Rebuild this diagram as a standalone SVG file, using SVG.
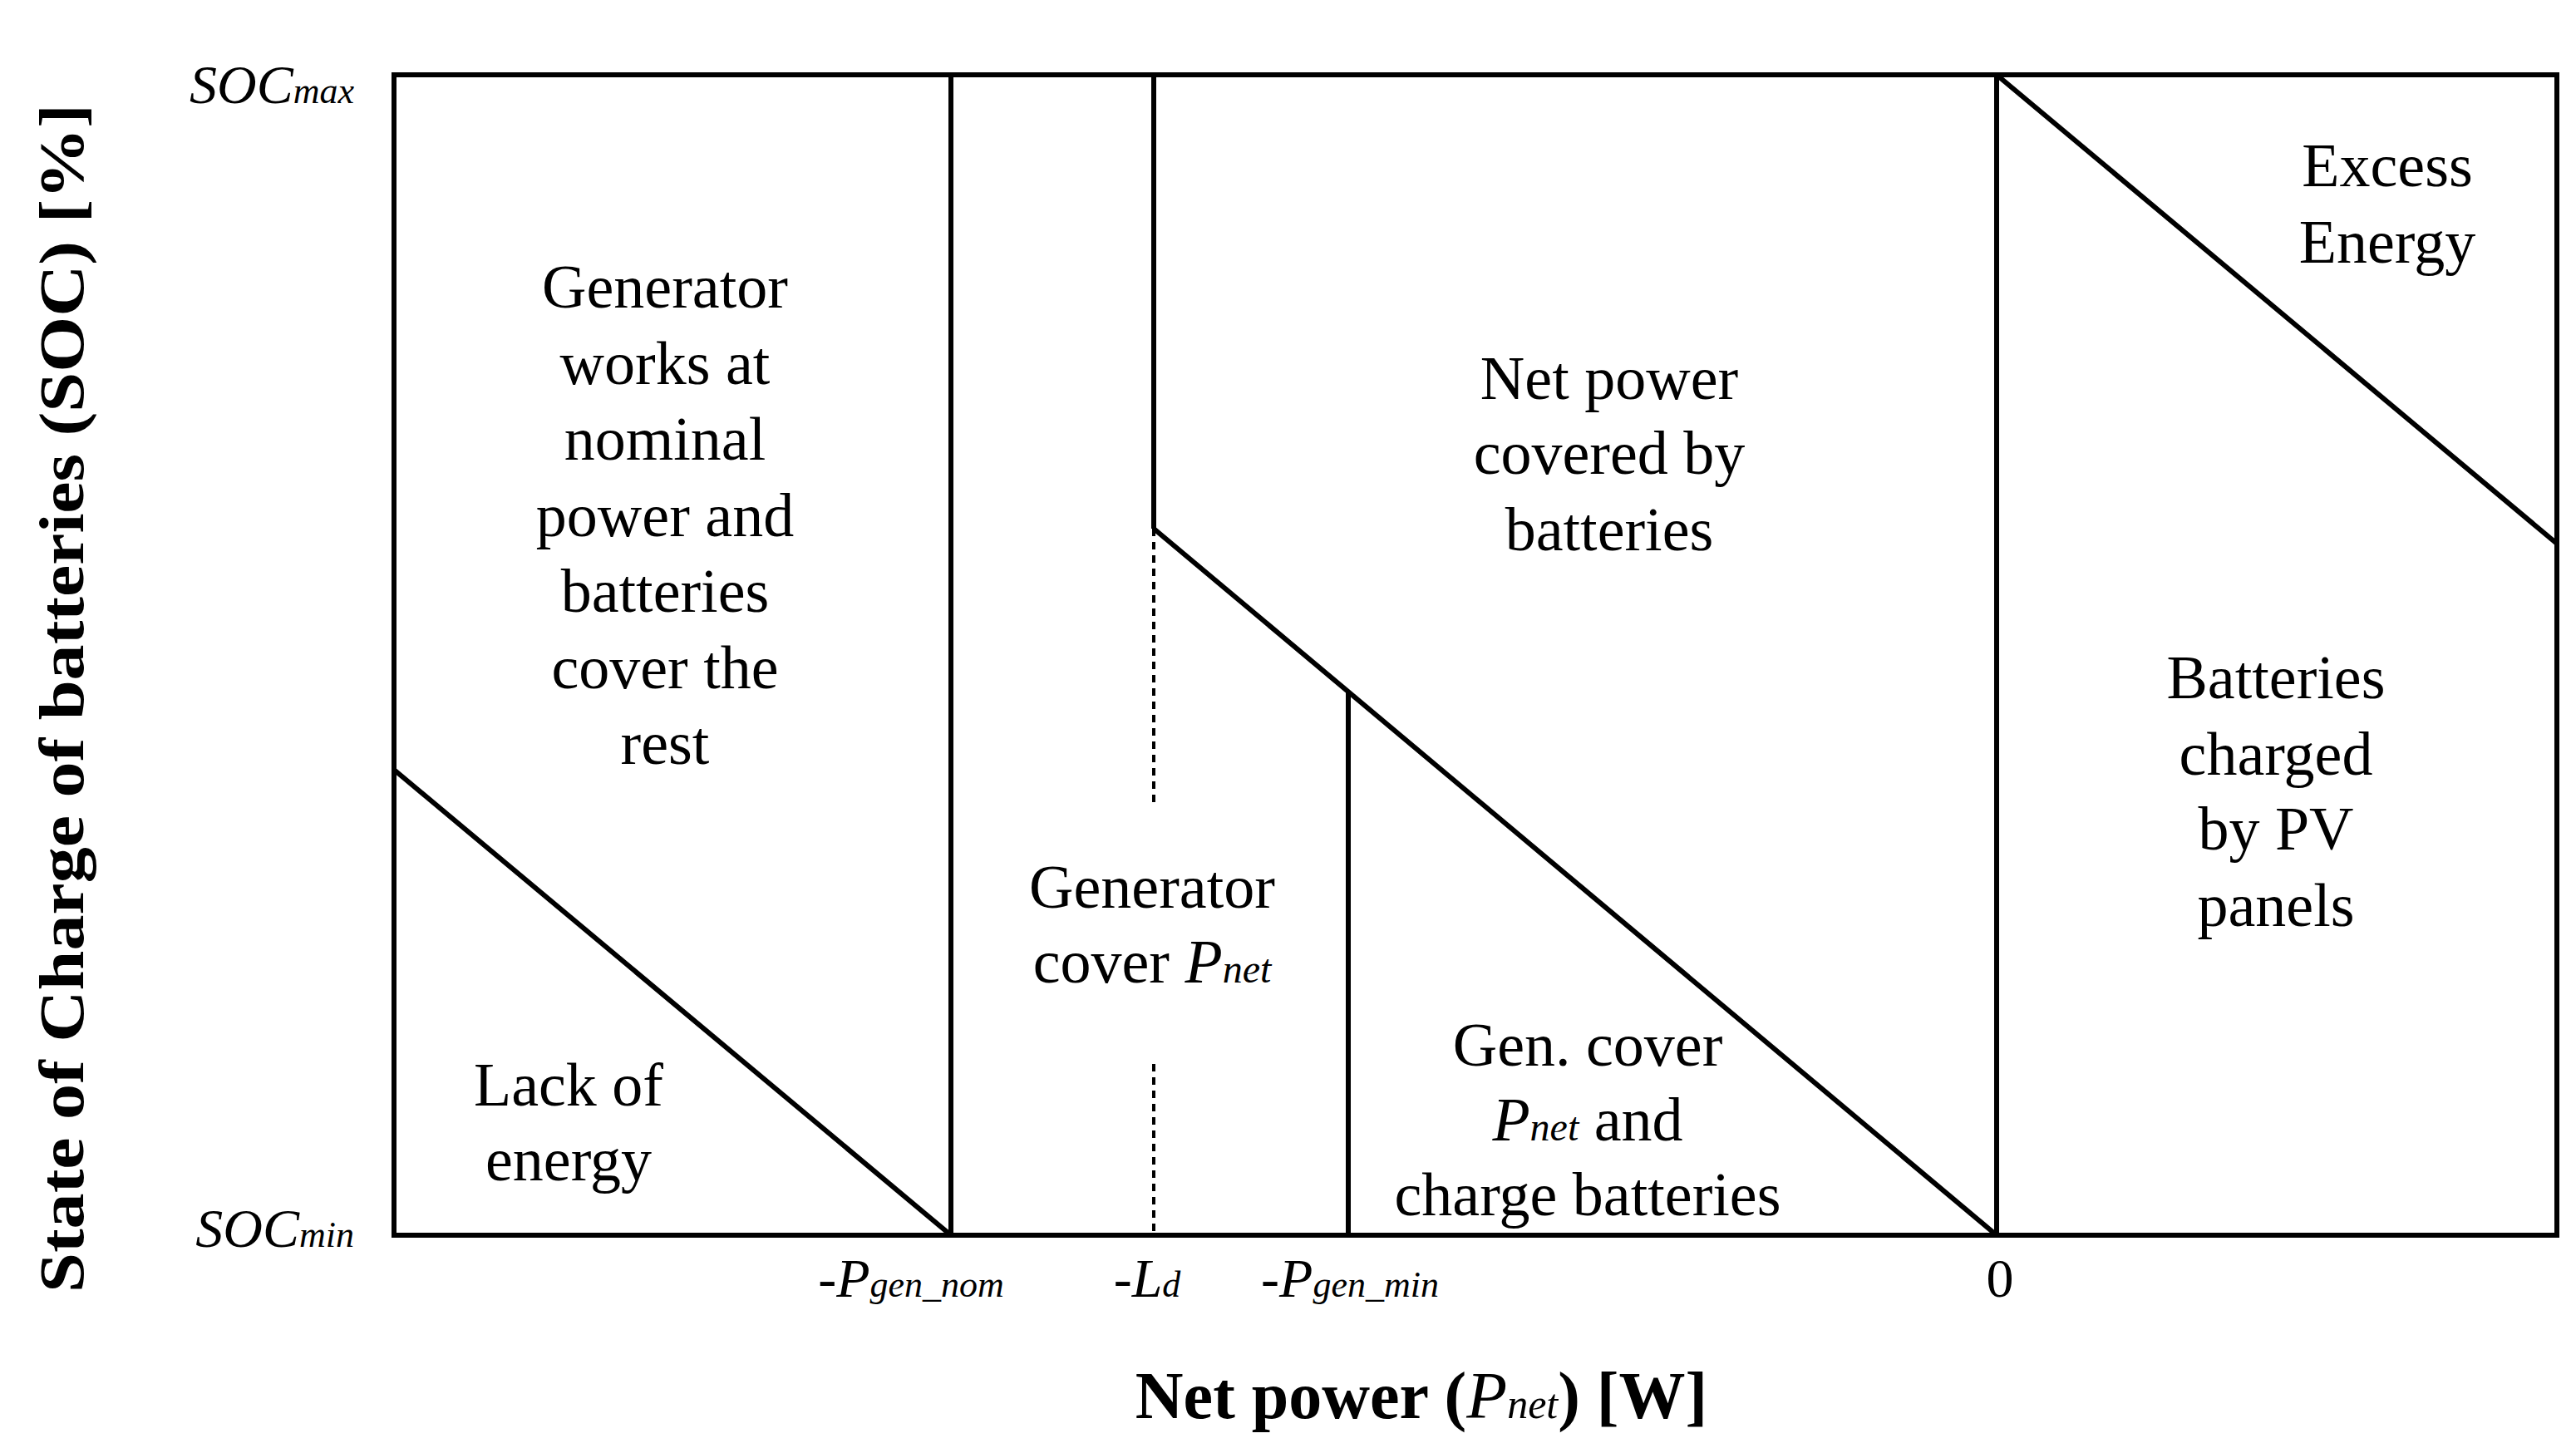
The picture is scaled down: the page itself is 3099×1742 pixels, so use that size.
<svg xmlns="http://www.w3.org/2000/svg" width="3099" height="1742" viewBox="0 0 3099 1742">
<style>
.l{stroke:#000;stroke-width:6;fill:none}
.d{stroke:#000;stroke-width:4;stroke-dasharray:9 7;fill:none}
text{font-family:"Liberation Serif",serif;fill:#000}
.t{font-size:74px;text-anchor:middle}
.a{font-size:66px;font-style:italic}
.s{font-size:44px;font-style:italic}
</style>
<rect width="3099" height="1742" fill="#fff"/>
<g id="connectors">
<rect class="l" x="474" y="90" width="2602" height="1396"/>
<line class="l" x1="474" y1="926" x2="1144" y2="1486"/>
<line class="l" x1="1144" y1="90" x2="1144" y2="1486"/>
<line class="l" x1="1388" y1="90" x2="1388" y2="636"/>
<line class="d" x1="1388" y1="636" x2="1388" y2="970"/>
<line class="d" x1="1388" y1="1280" x2="1388" y2="1486"/>
<line class="l" x1="1388" y1="636" x2="2402" y2="1486"/>
<line class="l" x1="1622" y1="832" x2="1622" y2="1486"/>
<line class="l" x1="2402" y1="90" x2="2402" y2="1486"/>
<line class="l" x1="2402" y1="90" x2="3076" y2="654"/>
</g>
<g id="gen-nominal">
<text class="t" x="800" y="370">Generator</text>
<text class="t" x="800" y="462">works at</text>
<text class="t" x="800" y="553">nominal</text>
<text class="t" x="800" y="645">power and</text>
<text class="t" x="800" y="736">batteries</text>
<text class="t" x="800" y="828">cover the</text>
<text class="t" x="800" y="919">rest</text>
</g>
<g id="lack">
<text class="t" x="684" y="1330">Lack of</text>
<text class="t" x="684" y="1420">energy</text>
</g>
<g id="gen-cover">
<text class="t" x="1386" y="1092">Generator</text>
<text class="t" x="1386" y="1182">cover <tspan font-style="italic">P</tspan><tspan font-style="italic" font-size="48">net</tspan></text>
</g>
<g id="net-batt">
<text class="t" x="1936" y="480">Net power</text>
<text class="t" x="1936" y="570">covered by</text>
<text class="t" x="1936" y="662">batteries</text>
</g>
<g id="excess">
<text class="t" x="2872" y="224">Excess</text>
<text class="t" x="2872" y="316">Energy</text>
</g>
<g id="pv">
<text class="t" x="2738" y="840">Batteries</text>
<text class="t" x="2738" y="932">charged</text>
<text class="t" x="2738" y="1022">by PV</text>
<text class="t" x="2738" y="1114">panels</text>
</g>
<g id="gen-charge">
<text class="t" x="1910" y="1282">Gen. cover</text>
<text class="t" x="1910" y="1372"><tspan font-style="italic">P</tspan><tspan font-style="italic" font-size="48">net</tspan> and</text>
<text class="t" x="1910" y="1462">charge batteries</text>
</g>
<g id="axes">
<text class="a" x="426" y="124" text-anchor="end">SOC<tspan class="s">max</tspan></text>
<text class="a" x="426" y="1500" text-anchor="end">SOC<tspan class="s">min</tspan></text>
<text class="a" x="1096" y="1560" text-anchor="middle">-P<tspan class="s">gen_nom</tspan></text>
<text class="a" x="1380" y="1560" text-anchor="middle">-L<tspan class="s">d</tspan></text>
<text class="a" x="1624" y="1560" text-anchor="middle">-P<tspan class="s">gen_min</tspan></text>
<text x="2406" y="1560" font-size="66" text-anchor="middle">0</text>
<text x="1710" y="1706" font-size="80" font-weight="bold" text-anchor="middle">Net power (<tspan font-style="italic" font-weight="normal">P</tspan><tspan font-style="italic" font-weight="normal" font-size="50">net</tspan>) [W]</text>
<text transform="translate(100,840) rotate(-90)" font-size="76" font-weight="bold" text-anchor="middle" textLength="1430" lengthAdjust="spacingAndGlyphs">State of Charge of batteries (SOC) [%]</text>
</g>
</svg>
